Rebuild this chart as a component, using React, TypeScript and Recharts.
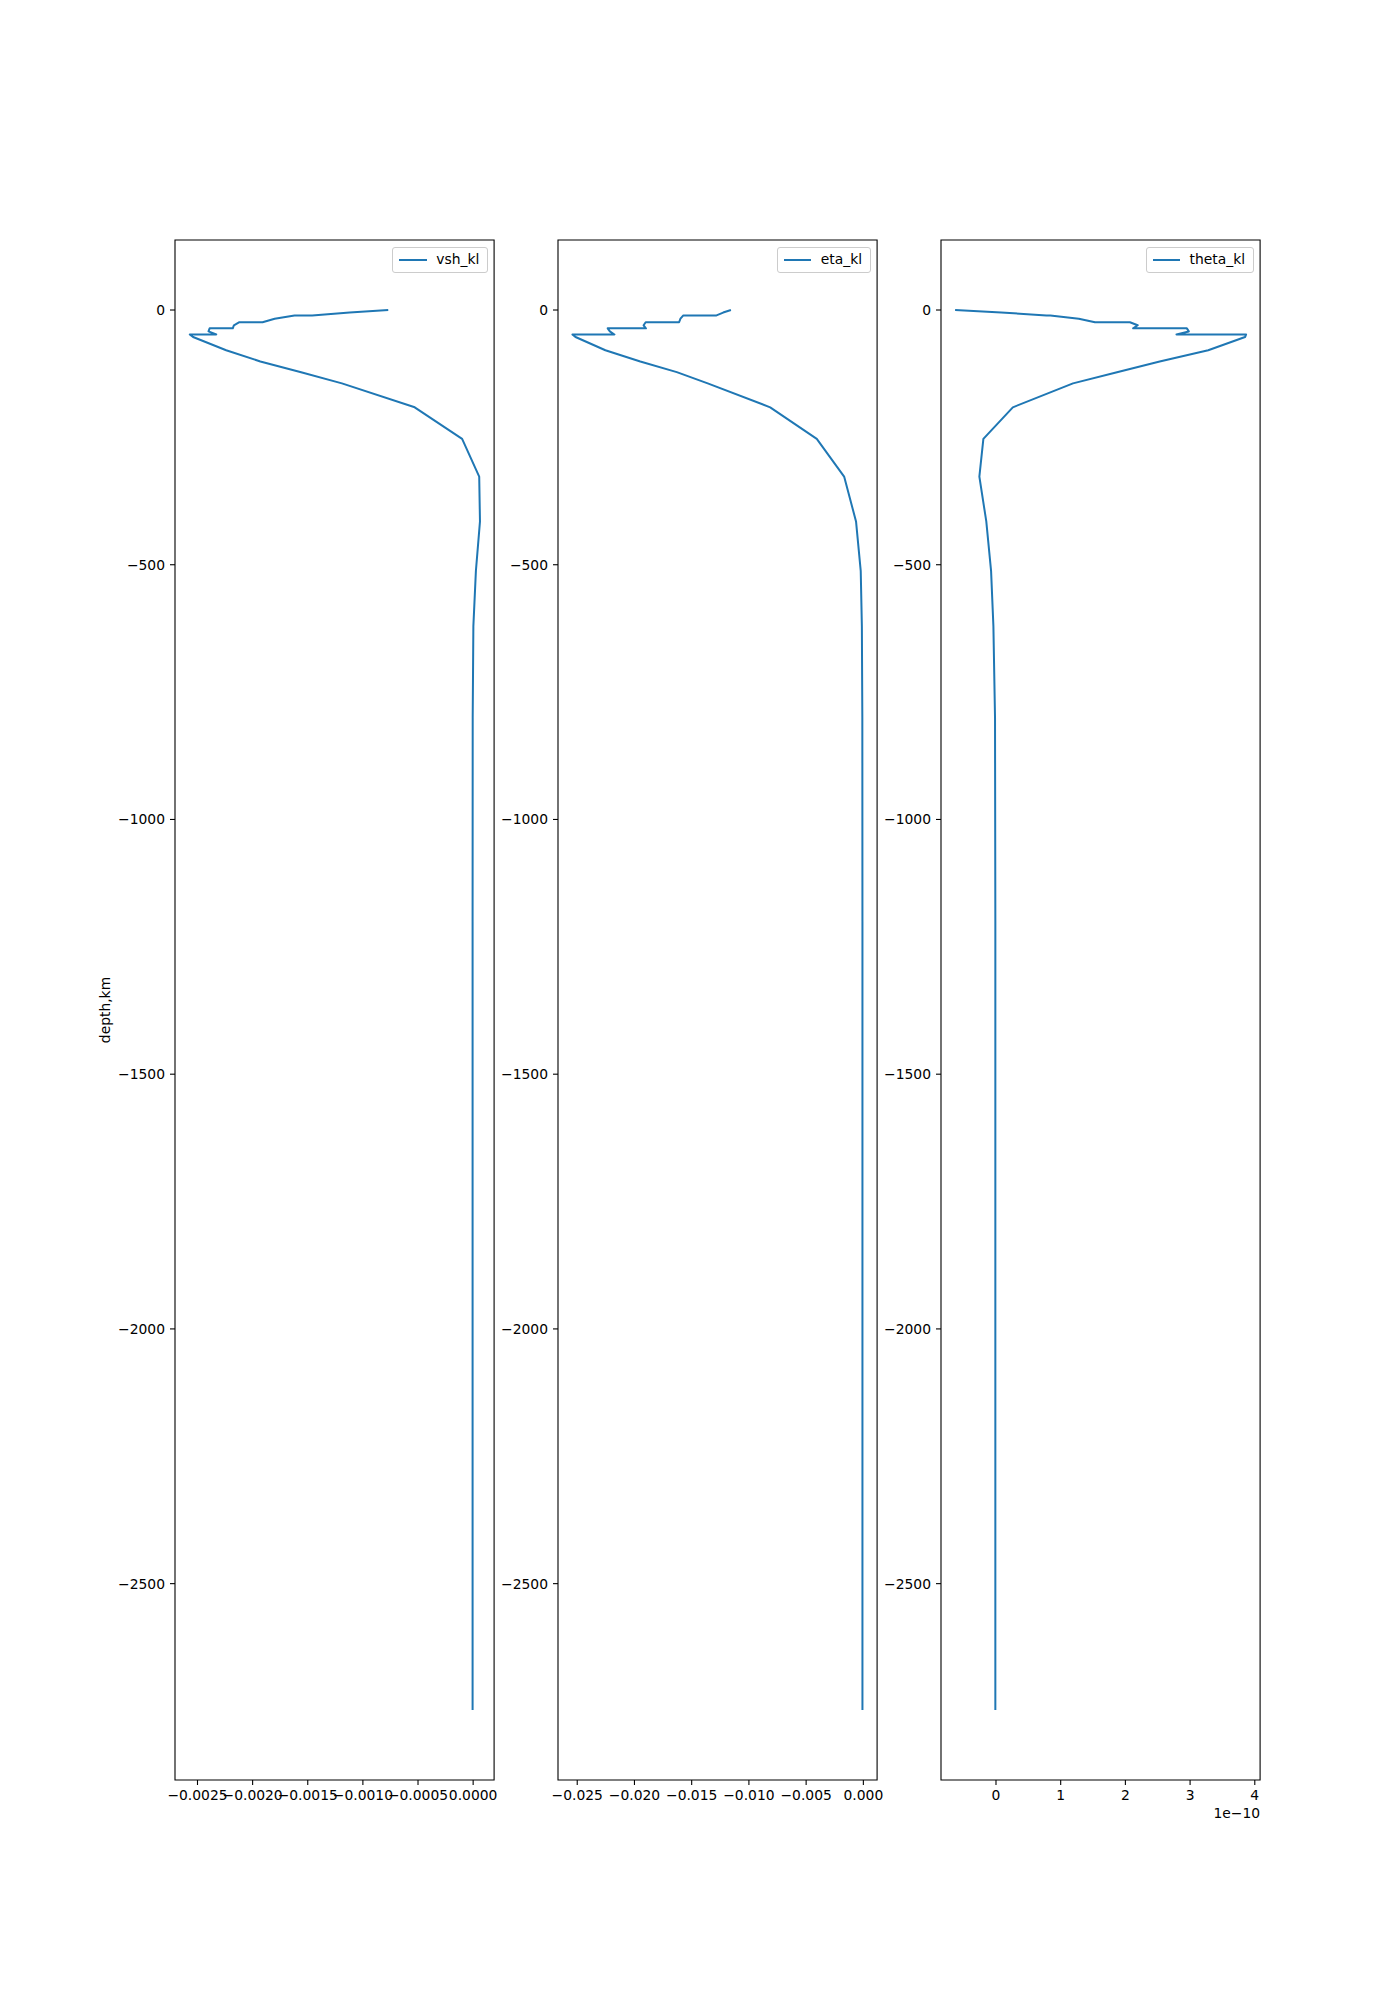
import React from 'react';
import { ScatterChart, Scatter, XAxis, YAxis, ReferenceArea, Legend, Label } from 'recharts';

const FONT = 'DejaVu Sans';
const BLUE = '#1f77b4';

// shared depth levels (km)
const depthKm = [0, -5, -10.6, -10.6, -17, -24, -24, -30, -36, -36, -42, -48, -48, -53, -79, -101, -122, -144, -191, -253, -327, -415, -512, -621, -800, -1200, -1800, -2400, -2748];

const vshKl = [-0.00077, -0.00112, -0.00146, -0.00162, -0.0018, -0.00191, -0.00212, -0.00217, -0.00218, -0.00239, -0.0024, -0.00233, -0.00257, -0.00254, -0.00224, -0.00193, -0.00156, -0.00119, -0.00053, -0.0001, 0.000055, 0.000062, 0.000025, 0.000002, -0.000004, -0.000005, -0.000005, -0.000005, -0.000005];

const etaKl = [-0.01157, -0.01225, -0.01283, -0.01573, -0.01598, -0.0161, -0.01902, -0.0192, -0.019, -0.02234, -0.02215, -0.02175, -0.02542, -0.02515, -0.02254, -0.01949, -0.0163, -0.0136, -0.00814, -0.00407, -0.00168, -0.00064, -0.00023, -0.00013, -0.00009, -0.00008, -0.00008, -0.00008, -0.00008];

const thetaKl = [-0.632e-10, 0.08e-10, 0.78e-10, 0.84e-10, 1.28e-10, 1.53e-10, 2.07e-10, 2.19e-10, 2.12e-10, 2.95e-10, 2.98e-10, 2.79e-10, 3.866e-10, 3.85e-10, 3.28e-10, 2.53e-10, 1.87e-10, 1.19e-10, 0.26e-10, -0.195e-10, -0.257e-10, -0.15e-10, -0.076e-10, -0.04e-10, -0.015e-10, -0.01e-10, -0.01e-10, -0.01e-10, -0.01e-10];

const depthTicks = [0, -500, -1000, -1500, -2000, -2500];
const vshTicks = [-0.0025, -0.002, -0.0015, -0.001, -0.0005, 0];
const etaTicks = [-0.025, -0.02, -0.015, -0.01, -0.005, 0];
const thetaTicks = [0, 1e-10, 2e-10, 3e-10, 4e-10];

const Y_DOMAIN: [number, number] = [-2885.4, 137.4];
const minus = (s: string) => s.replace('-', '\u2212');

const PLOT_W = 319.1;
const Y_AXIS_W = 100;
const RIGHT_M = 10;

const LegendBox = ({ label }: { label: string }) => (
  <div
    style={{
      display: 'flex',
      alignItems: 'center',
      height: 23.4,
      padding: '0 8px 0 6px',
      border: '1px solid #cccccc',
      borderRadius: 3,
      background: 'rgba(255,255,255,0.8)',
      fontFamily: FONT,
      fontSize: 13.9,
      color: '#000',
      whiteSpace: 'nowrap',
      lineHeight: 1,
    }}
  >
    <span style={{ display: 'inline-block', width: 27.6, height: 2, background: BLUE, marginRight: 9.4 }} />
    <span>{label}</span>
  </div>
);

type PanelProps = {
  plotLeft: number;
  name: string;
  values: number[];
  xDomain: [number, number];
  xTicks: number[];
  xFormat: (v: number) => string;
  yLabel?: string;
  offsetText?: string;
};

const Panel = ({ plotLeft, name, values, xDomain, xTicks, xFormat, yLabel, offsetText }: PanelProps) => {
  const rows = depthKm.map((d, i) => ({ depth: d, v: values[i] }));
  const width = Y_AXIS_W + PLOT_W + RIGHT_M;
  const tickStyle = { fill: '#000', fontSize: 13.9, fontFamily: FONT };
  return (
    <div style={{ position: 'absolute', left: plotLeft - Y_AXIS_W, top: 0, width, height: 2000 }}>
      <ScatterChart width={width} height={2000} margin={{ top: 240, right: RIGHT_M, left: 0, bottom: 180 }}>
        <XAxis
          type="number"
          dataKey="v"
          domain={xDomain}
          ticks={xTicks}
          interval={0}
          allowDataOverflow
          height={40}
          tickSize={5}
          tickMargin={5}
          axisLine={false}
          tickLine={{ stroke: '#000', strokeWidth: 1.1 }}
          tick={tickStyle}
          tickFormatter={xFormat}
        >
          {offsetText ? (
            <Label
              content={(p: any) => {
                const vb = p.viewBox || {};
                return (
                  <text
                    x={vb.x + vb.width}
                    y={vb.y + 33}
                    textAnchor="end"
                    dominantBaseline="central"
                    fontFamily={FONT}
                    fontSize={13.9}
                    fill="#000"
                  >
                    {offsetText}
                  </text>
                );
              }}
            />
          ) : null}
        </XAxis>
        <YAxis
          type="number"
          dataKey="depth"
          domain={Y_DOMAIN}
          ticks={depthTicks}
          interval={0}
          allowDataOverflow
          width={Y_AXIS_W}
          tickSize={5}
          tickMargin={5}
          axisLine={false}
          tickLine={{ stroke: '#000', strokeWidth: 1.1 }}
          tick={tickStyle}
          tickFormatter={(v: number) => minus(String(v))}
        >
          {yLabel ? (
            <Label
              content={(p: any) => {
                const vb = p.viewBox || {};
                const cx = vb.x + 29.6;
                const cy = vb.y + vb.height / 2;
                return (
                  <text
                    x={cx}
                    y={cy}
                    transform={`rotate(-90 ${cx} ${cy})`}
                    textAnchor="middle"
                    dominantBaseline="central"
                    fontFamily={FONT}
                    fontSize={13.9}
                    fill="#000"
                  >
                    {yLabel}
                  </text>
                );
              }}
            />
          ) : null}
        </YAxis>
        <ReferenceArea
          x1={xDomain[0]}
          x2={xDomain[1]}
          y1={Y_DOMAIN[0]}
          y2={Y_DOMAIN[1]}
          fill="#fff"
          fillOpacity={0}
          stroke="#000"
          strokeWidth={1.1}
          ifOverflow="visible"
        />
        <Scatter
          name={name}
          data={rows}
          fill={BLUE}
          line={{ stroke: BLUE, strokeWidth: 2, strokeLinejoin: 'round' }}
          lineType="joint"
          shape={() => <g />}
          isAnimationActive={false}
        />
        <Legend
          layout="horizontal"
          verticalAlign="middle"
          align="center"
          wrapperStyle={{ top: 247.3, left: 'auto', right: RIGHT_M + 5.8, width: 'auto', height: 'auto' }}
          content={() => <LegendBox label={name} />}
        />
      </ScatterChart>
    </div>
  );
};

export default function App() {
  return (
    <div style={{ position: 'absolute', left: 0, top: 0, width: 1400, height: 2000, background: '#fff' }}>
      <Panel
        plotLeft={175}
        name="vsh_kl"
        values={vshKl}
        xDomain={[-0.002704, 0.00019]}
        xTicks={vshTicks}
        xFormat={(v) => minus(v.toFixed(4))}
        yLabel="depth,km"
      />
      <Panel
        plotLeft={557.9}
        name="eta_kl"
        values={etaKl}
        xDomain={[-0.02668, 0.0012]}
        xTicks={etaTicks}
        xFormat={(v) => minus(v.toFixed(3))}
      />
      <Panel
        plotLeft={940.9}
        name="theta_kl"
        values={thetaKl}
        xDomain={[-0.85e-10, 4.082e-10]}
        xTicks={thetaTicks}
        xFormat={(v) => String(Math.round(v / 1e-10))}
        offsetText={'1e\u221210'}
      />
    </div>
  );
}
